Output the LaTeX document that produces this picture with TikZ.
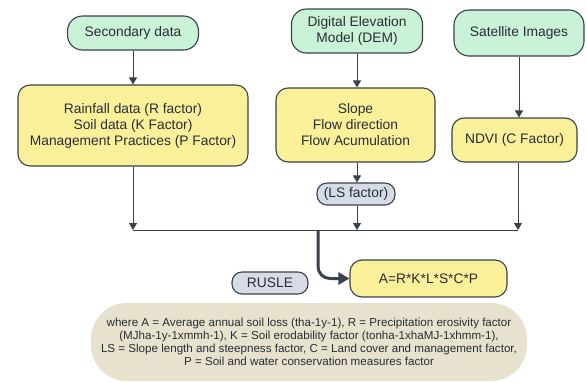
\documentclass[tikz,border=0pt]{standalone}
\usepackage{fontspec}
\setmainfont{Liberation Sans}
\usetikzlibrary{arrows.meta}
\definecolor{srcgreen}{HTML}{C9F2D6}
\definecolor{procyellow}{HTML}{FBF09A}
\definecolor{tagblue}{HTML}{D6DCE6}
\definecolor{notebeige}{HTML}{E6E2CE}
\definecolor{edgegray}{HTML}{3A404C}
\begin{document}
\begin{tikzpicture}[x=1pt,y=-1pt,
    box/.style={draw=edgegray,line width=1.1pt,text=edgegray!70!black,
      font=\fontsize{13.8}{16}\selectfont,align=center,inner sep=0pt},
    src/.style={box,fill=srcgreen,rounded corners=15pt},
    proc/.style={box,fill=procyellow,rounded corners=12pt},
    tag/.style={box,fill=tagblue,rounded corners=10pt},
    flow/.style={draw=edgegray,line width=1pt,-{Triangle[width=8pt,length=7pt]}}]
    \useasboundingbox (0,0) rectangle (587,383);
    \node[src,minimum width=131pt,minimum height=34pt] (sec) at (133,33) {Secondary data};
    \node[src,minimum width=131pt,minimum height=44pt] (dem) at (357,31) {Digital Elevation\\Model (DEM)};
    \node[src,minimum width=130pt,minimum height=46pt] (sat) at (519,33) {Satellite Images};
    \node[proc,minimum width=230pt,minimum height=81pt] (rain) at (133,125.5)
      {Rainfall data (R factor)\\Soil data (K Factor)\\Management Practices (P Factor)};
    \node[proc,minimum width=159pt,minimum height=74pt] (slope) at (355.5,125)
      {Slope\\Flow direction\\Flow Acumulation};
    \node[proc,minimum width=125pt,minimum height=44pt] (ndvi) at (514.5,140) {NDVI (C Factor)};
    \node[tag,minimum width=78pt,minimum height=22pt] (ls) at (356,194) {(LS factor)};
    \node[proc,minimum width=157pt,minimum height=37pt] (form) at (428.5,278.5) {A=R*K*L*S*C*P};
    \node[tag,minimum width=76pt,minimum height=22pt] (rusle) at (270,283) {RUSLE};
    \node[fill=notebeige,rounded corners=36pt,minimum width=436pt,minimum height=78pt,
      inner sep=0pt,align=center,text=edgegray!70!black,font=\fontsize{11.6}{13.2}\selectfont] (note) at (309,342)
      {where A = Average annual soil loss (tha-1y-1), R = Precipitation erosivity factor\\
       (MJha-1y-1xmmh-1), K = Soil erodability factor (tonha-1xhaMJ-1xhmm-1),\\
       LS = Slope length and steepness factor, C = Land cover and management factor,\\
       P = Soil and water conservation measures factor};
    \coordinate (jl) at (133,230);
    \coordinate (jc) at (357,230);
    \coordinate (jr) at (518,230);
    \coordinate (jm) at (318,230);
    \draw[flow] (sec) -- (rain);
    \draw[flow] (dem.south) -- (dem |- slope.north);
    \draw[flow] (sat.south) -- (sat |- ndvi.north);
    \draw[flow] (slope.south -| jc) -- (jc |- ls.north);
    \draw[flow] (rain.south) -- (jl);
    \draw[flow] (ls.south -| jc) -- (jc);
    \draw[flow] (ndvi.south -| jr) -- (jr);
    \draw[edgegray,line width=1pt] (jl) -- (jr);
    \draw[edgegray,line width=3pt,rounded corners=12pt,-{Triangle[width=12pt,length=11pt]}] (jm) |- (form.west);
\end{tikzpicture}
\end{document}
